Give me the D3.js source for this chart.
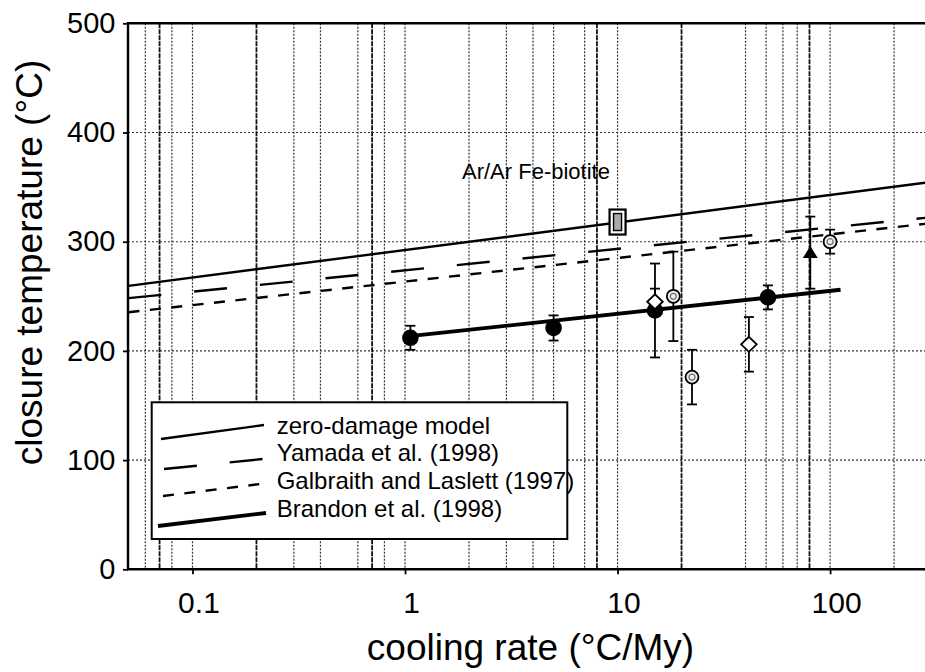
<!DOCTYPE html>
<html>
<head>
<meta charset="utf-8">
<script src="https://cdn.jsdelivr.net/npm/d3@7"></script>
<style>
  body { margin: 0; background: #fff; }
  svg { display: block; font-family: "Liberation Sans", Arial, Helvetica, sans-serif; }
</style>
</head>
<body>
<svg width="925" height="672"></svg>
<script>
// closure temperature vs cooling rate (log x)

// model lines, [rate, temperature] at the ends of the plot
var zeroDamage = [[0.05, 259.6], [300, 354.8]];
var yamada = [[0.05, 248.3], [300, 322.4]];
var galbraith = [[0.05, 235.4], [300, 317.0]];
var brandon = [[1, 213], [112, 256]];

// measured points (rate, temperature, +/- error)
var circleRates = [1.06, 5.0, 15.0, 51];
var circleTemps = [212, 221, 237, 249];
var circleErrs = [11, 11.5, 43, 11];

var diamondRates = [15, 41.5];
var diamondTemps = [245, 206];
var diamondErrs = [12, 25];

var dotRates = [18.3, 22.4, 100];
var dotTemps = [250, 176, 300];
var dotErrs = [41, 25, 11];

var triRates = [80.7];
var triTemps = [290];
var triErrs = [33];

var biotiteRate = 10, biotiteTemp = 318;

var xTicks = [0.1, 1, 10, 100];
var yTicks = [0, 100, 200, 300, 400, 500];
// vertical grid lines as they show in the figure
var gridLight = [0.06, 0.08, 0.1, 0.3, 0.4, 0.6, 0.8, 1, 2, 3, 4, 5, 7, 10, 40, 50, 60, 70, 100, 200];
var gridHeavy = [0.07, 0.2, 0.7, 8, 20, 80];

var legendLabels = ['zero-damage model', 'Yamada et al. (1998)', 'Galbraith and Laslett (1997)', 'Brandon et al. (1998)'];

var svgWidth = 925, svgHeight = 672;
var plotLeft = 128, plotTop = 23.3, plotBottom = 569.3, plotRight = 925;

var svg = d3.select('svg');

var x = d3.scaleLog()
    .domain([0.05, 300])
    .range([128.5, 931.5]);

var y = d3.scaleLinear()
    .domain([0, 500])
    .range([plotBottom, plotTop]);

svg.append('defs').append('clipPath')
    .attr('id', 'plot')
    .append('rect')
    .attr('x', plotLeft).attr('y', plotTop)
    .attr('width', plotRight - plotLeft).attr('height', plotBottom - plotTop);

var plot = svg.append('g').attr('clip-path', 'url(#plot)');

// grid
plot.selectAll('.hgrid')
    .data(yTicks.slice(1, 5))
    .enter()
    .append('line')
    .attr('x1', plotLeft).attr('x2', plotRight)
    .attr('y1', function(d) { return y(d); })
    .attr('y2', function(d) { return y(d); })
    .attr('stroke', '#333')
    .attr('stroke-width', 1.1)
    .attr('stroke-dasharray', '2,2');

plot.selectAll('.vgrid')
    .data(gridLight)
    .enter()
    .append('line')
    .attr('x1', function(d) { return x(d); })
    .attr('x2', function(d) { return x(d); })
    .attr('y1', plotTop).attr('y2', plotBottom)
    .attr('stroke', '#333')
    .attr('stroke-width', 1.2)
    .attr('stroke-dasharray', '2,1.5');

plot.selectAll('.vgridh')
    .data(gridHeavy)
    .enter()
    .append('line')
    .attr('x1', function(d) { return x(d); })
    .attr('x2', function(d) { return x(d); })
    .attr('y1', plotTop).attr('y2', plotBottom)
    .attr('stroke', '#111')
    .attr('stroke-width', 1.8)
    .attr('stroke-dasharray', '5,1');

// model lines
var line = d3.line()
    .x(function(d) { return x(d[0]); })
    .y(function(d) { return y(d[1]); });

var models = [
    { data: zeroDamage, width: 2.4, dash: null },
    { data: yamada, width: 2.4, dash: '33,33' },
    { data: galbraith, width: 2.4, dash: '11,10.5' },
    { data: brandon, width: 3.8, dash: null }
];

plot.selectAll('.model')
    .data(models)
    .enter()
    .append('path')
    .attr('d', function(d) { return line(d.data); })
    .attr('fill', 'none')
    .attr('stroke', '#000')
    .attr('stroke-width', function(d) { return d.width; })
    .attr('stroke-dasharray', function(d) { return d.dash; });

// error bars
function errorBars(rates, temps, errs) {
    var pts = rates.map(function(r, i) { return { r: r, t: temps[i], e: errs[i] }; });
    var g = plot.append('g').attr('stroke', '#000').attr('stroke-width', 1.8);
    var bars = g.selectAll('g').data(pts).enter().append('g');
    bars.append('line')
        .attr('x1', function(d) { return x(d.r); })
        .attr('x2', function(d) { return x(d.r); })
        .attr('y1', function(d) { return y(d.t + d.e); })
        .attr('y2', function(d) { return y(d.t - d.e); });
    [1, -1].forEach(function(s) {
        bars.append('line')
            .attr('x1', function(d) { return x(d.r) - 5; })
            .attr('x2', function(d) { return x(d.r) + 5; })
            .attr('y1', function(d) { return y(d.t + s * d.e); })
            .attr('y2', function(d) { return y(d.t + s * d.e); });
    });
    return pts;
}

var circles = errorBars(circleRates, circleTemps, circleErrs);
var diamonds = errorBars(diamondRates, diamondTemps, diamondErrs);
var dots = errorBars(dotRates, dotTemps, dotErrs);
var tris = errorBars(triRates, triTemps, triErrs);

plot.selectAll('.circ')
    .data(circles)
    .enter()
    .append('circle')
    .attr('cx', function(d) { return x(d.r); })
    .attr('cy', function(d) { return y(d.t); })
    .attr('r', 8.3)
    .attr('fill', '#000');

plot.selectAll('.diam')
    .data(diamonds)
    .enter()
    .append('path')
    .attr('transform', function(d) { return 'translate(' + x(d.r) + ',' + y(d.t) + ')'; })
    .attr('d', 'M0,-7.5L7.8,0L0,7.5L-7.8,0Z')
    .attr('fill', '#fff')
    .attr('stroke', '#000')
    .attr('stroke-width', 1.8);

var dotG = plot.selectAll('.dot')
    .data(dots)
    .enter()
    .append('g')
    .attr('transform', function(d) { return 'translate(' + x(d.r) + ',' + y(d.t) + ')'; });
dotG.append('circle').attr('r', 6.5).attr('fill', '#eee').attr('stroke', '#000').attr('stroke-width', 1.8);
dotG.append('circle').attr('r', 3).attr('fill', 'none').attr('stroke', '#666').attr('stroke-width', 1.2);

plot.selectAll('.tri')
    .data(tris)
    .enter()
    .append('path')
    .attr('transform', function(d) { return 'translate(' + x(d.r) + ',' + y(d.t) + ')'; })
    .attr('d', 'M0,-6.5L7.5,5.5L-7.5,5.5Z')
    .attr('fill', '#000');

// Ar/Ar Fe-biotite box
var bx = x(biotiteRate), by = y(biotiteTemp);
plot.append('rect')
    .attr('x', bx - 8).attr('y', by - 12.5)
    .attr('width', 16).attr('height', 25)
    .attr('fill', '#fff').attr('stroke', '#000').attr('stroke-width', 2.2);
plot.append('rect')
    .attr('x', bx - 4).attr('y', by - 8.5)
    .attr('width', 8).attr('height', 17)
    .attr('fill', '#aaa').attr('stroke', '#000').attr('stroke-width', 1.4);

svg.append('text')
    .attr('x', 462).attr('y', 179)
    .attr('font-size', 22)
    .text('Ar/Ar Fe-biotite');

// legend
var legend = svg.append('g');
legend.append('rect')
    .attr('x', 151.7).attr('y', 402.3)
    .attr('width', 415.6).attr('height', 136.7)
    .attr('fill', '#fff').attr('stroke', '#000').attr('stroke-width', 2);

var legendSamples = [[161, 439, 264, 425], [164, 469, 263, 459], [163, 496, 260, 484], [158, 526, 266, 513]];
legend.selectAll('.ls')
    .data(models)
    .enter()
    .append('line')
    .attr('x1', function(d, i) { return legendSamples[i][0]; })
    .attr('y1', function(d, i) { return legendSamples[i][1]; })
    .attr('x2', function(d, i) { return legendSamples[i][2]; })
    .attr('y2', function(d, i) { return legendSamples[i][3]; })
    .attr('stroke', '#000')
    .attr('stroke-width', function(d) { return d.width; })
    .attr('stroke-dasharray', function(d) { return d.dash; });

legend.selectAll('text')
    .data(legendLabels)
    .enter()
    .append('text')
    .attr('x', 276.7)
    .attr('y', function(d, i) { return 433.5 + i * 27.8; })
    .attr('font-size', 24)
    .text(function(d) { return d; });

// axes
var xAxis = svg.append('g')
    .attr('transform', 'translate(0,' + plotBottom + ')')
    .call(d3.axisBottom(x).tickValues(xTicks).tickFormat(d3.format('')).tickSize(5).tickPadding(17));
xAxis.select('.domain').remove();
xAxis.selectAll('line').attr('stroke-width', 1.8);
xAxis.selectAll('text').attr('font-size', 30).attr('dx', 6)
    .style('font-family', '"Liberation Sans", Arial, sans-serif');

var yAxis = svg.append('g')
    .attr('transform', 'translate(' + plotLeft + ',0)')
    .call(d3.axisLeft(y).tickValues(yTicks).tickSize(5).tickPadding(7.5));
yAxis.select('.domain').remove();
yAxis.selectAll('line').attr('stroke-width', 1.8);
yAxis.selectAll('text').attr('font-size', 29)
    .style('font-family', '"Liberation Sans", Arial, sans-serif');

// frame (left, bottom, top)
svg.append('path')
    .attr('d', 'M' + plotRight + ',' + plotTop + 'H' + plotLeft + 'V' + plotBottom + 'H' + plotRight)
    .attr('fill', 'none')
    .attr('stroke', '#000')
    .attr('stroke-width', 2.4);

svg.append('text')
    .attr('x', 530.5).attr('y', 660)
    .attr('text-anchor', 'middle')
    .attr('font-size', 37)
    .text('cooling rate (°C/My)');

svg.append('text')
    .attr('transform', 'translate(42,262.5) rotate(-90)')
    .attr('text-anchor', 'middle')
    .attr('font-size', 37)
    .text('closure temperature (°C)');
</script>
</body>
</html>
